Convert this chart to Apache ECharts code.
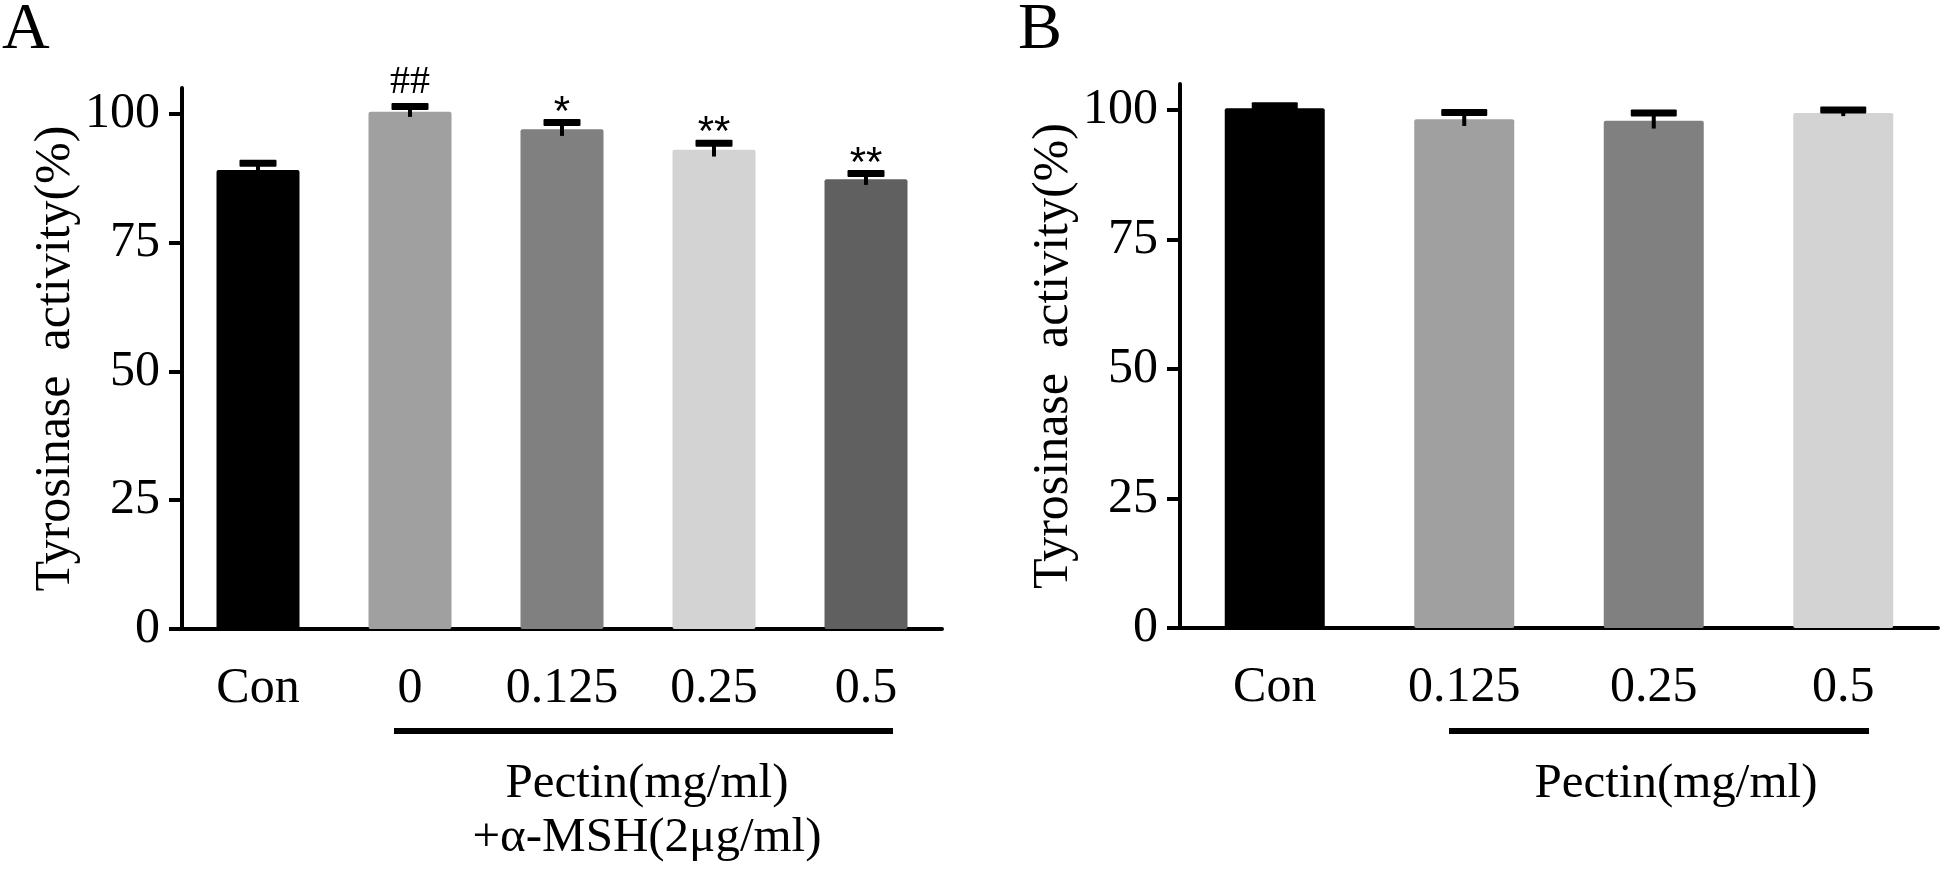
<!DOCTYPE html>
<html>
<head>
<meta charset="utf-8">
<script src="https://cdn.jsdelivr.net/npm/echarts@6/dist/echarts.min.js"></script>
<style>
  html, body { margin: 0; padding: 0; background: #ffffff; }
  #chart { width: 1944px; height: 871px; }
</style>
</head>
<body>
<div id="chart"></div>
<script>
// ---- data ----
const catsA = ['Con', '0', '0.125', '0.25', '0.5'];
const valsA = [89.1, 100.4, 97.0, 93.0, 87.3];
const errA = [1.3, 1.0, 1.3, 1.3, 1.1];
const sigA = ['', '##', '*', '**', '**'];
const colorsA = ['#000000', '#a0a0a0', '#808080', '#d3d3d3', '#606060'];

const catsB = ['Con', '0.125', '0.25', '0.5'];
const valsB = [100.3, 98.2, 97.9, 99.4];
const errB = [0.5, 1.3, 1.5, 0.6];
const sigB = ['', '', '', ''];
const colorsB = ['#000000', '#a0a0a0', '#808080', '#d3d3d3'];

const yTicks = [0, 25, 50, 75, 100];
const yName = 'Tyrosinase  activity(%)';
const groupLabelA = ['Pectin(mg/ml)', '+\u03b1-MSH(2\u03bcg/ml)'];
const groupLabelB = ['Pectin(mg/ml)'];

const FONT = '"Liberation Serif", "Times New Roman", serif';

function xAxisDef(gridIndex, cats) {
  return {
    type: 'category', gridIndex: gridIndex, data: cats,
    axisLine: { lineStyle: { color: '#000', width: 4 } },
    axisTick: { alignWithLabel: true, length: 14, lineStyle: { color: '#000', width: 4 } },
    axisLabel: { color: '#000', fontFamily: FONT, fontSize: 50, margin: 35 },
    splitLine: { show: false }
  };
}
function yAxisDef(gridIndex) {
  return {
    type: 'value', gridIndex: gridIndex, min: 0, max: 105,
    name: yName, nameLocation: 'middle', nameRotate: 90, nameGap: 90,
    nameTextStyle: { color: '#000', fontFamily: FONT, fontSize: 50 },
    axisLine: { show: true, lineStyle: { color: '#000', width: 4 } },
    axisTick: { show: true, length: 13, customValues: yTicks, lineStyle: { color: '#000', width: 4 } },
    axisLabel: { color: '#000', fontFamily: FONT, fontSize: 50, margin: 22, customValues: yTicks },
    splitLine: { show: false }
  };
}
function barSeries(idx, vals, colors, width) {
  return {
    type: 'bar', xAxisIndex: idx, yAxisIndex: idx, barWidth: width,
    data: vals.map((v, i) => ({ value: v, itemStyle: { color: colors[i], borderRadius: 2 } })),
    z: 2, silent: true
  };
}
function errSeries(idx, vals, errs, sigs, capW) {
  return {
    type: 'custom', xAxisIndex: idx, yAxisIndex: idx, z: 5, silent: true,
    data: vals.map((v, i) => [i, v, errs[i]]),
    renderItem: function (params, api) {
      const i = api.value(0), v = api.value(1), e = api.value(2);
      const sig = sigs[i];
      const top = api.coord([i, v + e]);
      const bot = api.coord([i, v - e]);
      const capH = 7;
      const children = [
        { type: 'rect', shape: { x: top[0] - 2, y: top[1], width: 4, height: bot[1] - top[1] }, style: { fill: '#000' } },
        { type: 'rect', shape: { x: top[0] - capW / 2, y: top[1] - capH / 2, width: capW, height: capH, r: 1 }, style: { fill: '#000' } }
      ];
      if (sig) {
        const isHash = sig.indexOf('#') >= 0;
        children.push({
          type: 'text',
          style: {
            text: sig, x: top[0], y: top[1] - capH / 2 + (isHash ? -1 : 15),
            align: 'center', verticalAlign: 'bottom',
            font: isHash ? ('40px ' + FONT) : ('42px "Liberation Sans", Arial, sans-serif'),
            fill: '#000'
          }
        });
      }
      return { type: 'group', children: children };
    }
  };
}

const chart = echarts.init(document.getElementById('chart'), null, { renderer: 'canvas' });
chart.setOption({
  backgroundColor: '#ffffff',
  animation: false,
  grid: [
    { left: 182, top: 88, width: 760, height: 541 },
    { left: 1180, top: 84, width: 758, height: 544 }
  ],
  xAxis: [xAxisDef(0, catsA), xAxisDef(1, catsB)],
  yAxis: [yAxisDef(0), yAxisDef(1)],
  series: [
    barSeries(0, valsA, colorsA, 83),
    errSeries(0, valsA, errA, sigA, 37),
    barSeries(1, valsB, colorsB, 100),
    errSeries(1, valsB, errB, sigB, 46)
  ],
  graphic: [
    { type: 'text', left: 2, top: -2, style: { text: 'A', font: '66px ' + FONT, fill: '#000' } },
    { type: 'text', left: 1018, top: -2, style: { text: 'B', font: '66px ' + FONT, fill: '#000' } },
    { type: 'rect', shape: { x: 394, y: 728, width: 499, height: 6 }, style: { fill: '#000' } },
    { type: 'text', x: 647, y: 784, style: { text: groupLabelA[0], font: '49px ' + FONT, fill: '#000', align: 'center', verticalAlign: 'middle' } },
    { type: 'text', x: 647, y: 838, style: { text: groupLabelA[1], font: '49px ' + FONT, fill: '#000', align: 'center', verticalAlign: 'middle' } },
    { type: 'rect', shape: { x: 1449, y: 728, width: 420, height: 6 }, style: { fill: '#000' } },
    { type: 'text', x: 1676, y: 784, style: { text: groupLabelB[0], font: '49px ' + FONT, fill: '#000', align: 'center', verticalAlign: 'middle' } }
  ]
});
</script>
</body>
</html>
